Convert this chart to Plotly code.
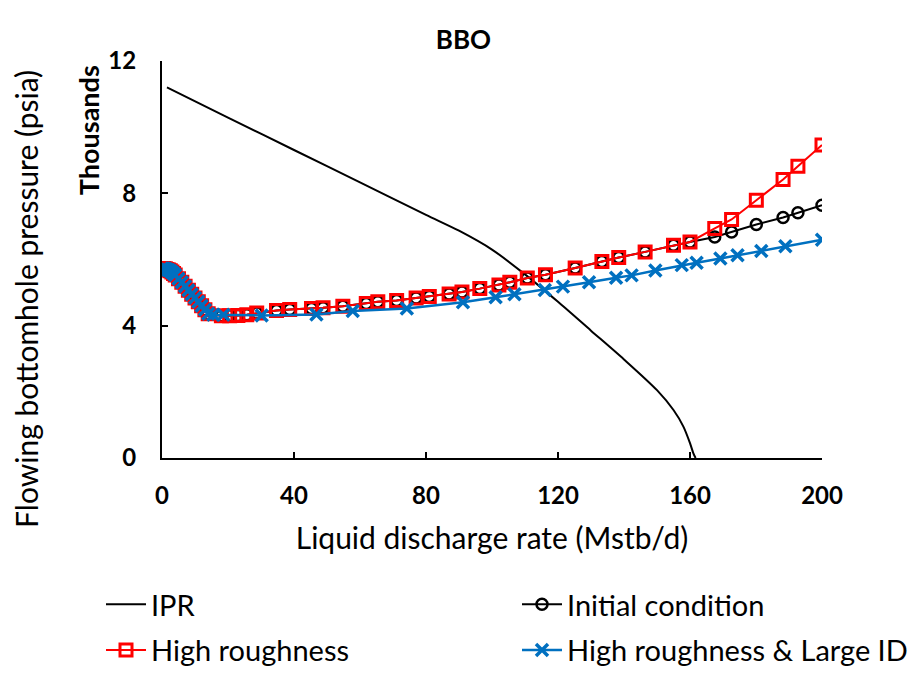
import plotly.graph_objects as go

# ---------------- data (pressure in thousands of psia) ----------------
ipr_q = [1.5, 20, 40, 60, 80, 90, 100, 110, 120, 130, 140, 150, 155, 158, 160, 161, 161.7]
ipr_p = [11.2, 10.29, 9.31, 8.33, 7.35, 6.87, 6.30, 5.55, 4.72, 3.85, 2.98, 2.05, 1.45, 0.95, 0.45, 0.15, 0.0]

low_q = [0, 0.5, 1, 1.5, 2, 2.5, 3, 3.5, 4, 5, 6, 7, 8, 9, 10, 11, 12, 13, 14]
low_p = [5.73, 5.73, 5.72, 5.70, 5.68, 5.66, 5.62, 5.58, 5.53, 5.42, 5.31, 5.19, 5.07, 4.95, 4.84, 4.72, 4.60, 4.48, 4.36]

hr_q = low_q + [18, 20.5, 23, 25.7, 28.7, 34.7, 38.7, 45.3, 48.8, 54.8, 61.9, 65.4, 71.1, 77, 81, 87,
                90.9, 96.3, 102.1, 105.4, 110.7, 116.2, 125.2, 133.3, 138.4, 146.4, 155, 160,
                167.5, 172.6, 180.1, 188.2, 192.7, 200]
hr_p = low_p + [4.30, 4.30, 4.31, 4.33, 4.38, 4.46, 4.49, 4.52, 4.54, 4.59, 4.67, 4.72, 4.76, 4.84, 4.88, 4.96,
                5.02, 5.12, 5.23, 5.31, 5.44, 5.54, 5.74, 5.94, 6.06, 6.23, 6.43, 6.53,
                6.94, 7.21, 7.79, 8.42, 8.82, 9.46]

init_q = hr_q
init_p = hr_p[:-6] + [6.68, 6.83, 7.06, 7.27, 7.41, 7.64]

lid_q = low_q + [15.5, 18.6, 30.2, 46.8, 57.8, 74.2, 91.2, 101.1, 106.8, 116, 121.5, 129.4, 137.6, 142.3,
                 149.5, 157.5, 162, 169.2, 174.4, 181.6, 188.9, 200]
lid_p = low_p + [4.33, 4.33, 4.31, 4.34, 4.44, 4.52, 4.71, 4.86, 4.95, 5.08, 5.18, 5.31, 5.45, 5.52,
                 5.67, 5.83, 5.90, 6.03, 6.13, 6.26, 6.40, 6.60]

x_ticks = [0, 40, 80, 120, 160, 200]
y_ticks = [0, 4, 8, 12]

FONT = "Lato"

fig = go.Figure()
fig.add_trace(go.Scatter(x=ipr_q, y=ipr_p, mode="lines", name="IPR", legend="legend", legendgroup="a",
                         line=dict(color="black", width=2, shape="spline", smoothing=0.8)))
fig.add_trace(go.Scatter(x=init_q, y=init_p, mode="lines+markers", name="Initial condition",
                         legend="legend2", legendgroup="b",
                         line=dict(color="black", width=2),
                         marker=dict(symbol="circle-open", size=11, color="black", line=dict(width=2.5))))
fig.add_trace(go.Scatter(x=hr_q, y=hr_p, mode="lines+markers", name="High roughness",
                         legend="legend", legendgroup="c",
                         line=dict(color="#ff0000", width=2),
                         marker=dict(symbol="square-open", size=12, color="#ff0000", line=dict(width=3))))
fig.add_trace(go.Scatter(x=lid_q, y=lid_p, mode="lines+markers", name="High roughness & Large ID",
                         legend="legend2", legendgroup="d",
                         line=dict(color="#0070c0", width=2.5),
                         marker=dict(symbol="x-thin", size=12, color="#0070c0", line=dict(width=3.5, color="#0070c0"))))

legend_common = dict(orientation="v", xref="container", yref="container",
                     xanchor="left", yanchor="top",
                     font=dict(size=29, family=FONT, color="black"), itemwidth=40,
                     tracegroupgap=5, bgcolor="rgba(0,0,0,0)")

fig.update_layout(
    width=922, height=676,
    paper_bgcolor="white", plot_bgcolor="white",
    margin=dict(l=154, r=108, t=53, b=226, autoexpand=False),
    font=dict(family=FONT, color="black"),
    title=dict(text="<b>BBO</b>", x=0.494, xanchor="center", y=1 - 32 / 676, yanchor="middle",
               font=dict(size=26, family=FONT, color="black")),
    xaxis=dict(range=[0, 200], tickvals=x_ticks, ticktext=[str(v) for v in x_ticks],
               showgrid=False, zeroline=False, showline=True, linecolor="black", linewidth=2,
               ticks="inside", ticklen=6, tickwidth=2, tickcolor="black",
               tickfont=dict(size=24, family=FONT, color="black", weight="bold"),
               ticklabelstandoff=15,
               title=dict(text="Liquid discharge rate (Mstb/d)", font=dict(size=30, family=FONT), standoff=20)),
    yaxis=dict(range=[0, 12], tickvals=y_ticks, ticktext=[str(v) for v in y_ticks],
               showgrid=False, zeroline=False, showline=True, linecolor="black", linewidth=2,
               ticks="inside", ticklen=6, tickwidth=2, tickcolor="black",
               tickfont=dict(size=24, family=FONT, color="black", weight="bold"),
               ticklabelstandoff=19),
    legend=dict(x=93 / 922, y=1 - 571 / 676, **legend_common),
    legend2=dict(x=509 / 922, y=1 - 571 / 676, **legend_common),
    showlegend=True,
)

fig.add_annotation(text="<b>Thousands</b>", xref="paper", yref="paper", x=-0.112, y=0.826,
                   textangle=-90, showarrow=False, font=dict(size=27, family=FONT),
                   xanchor="center", yanchor="middle")
fig.add_annotation(text="Flowing bottomhole pressure (psia)", xref="paper", yref="paper",
                   x=-0.205, y=0.40, textangle=-90, showarrow=False,
                   font=dict(size=30, family=FONT), xanchor="center", yanchor="middle")

fig.write_html("out.html")
